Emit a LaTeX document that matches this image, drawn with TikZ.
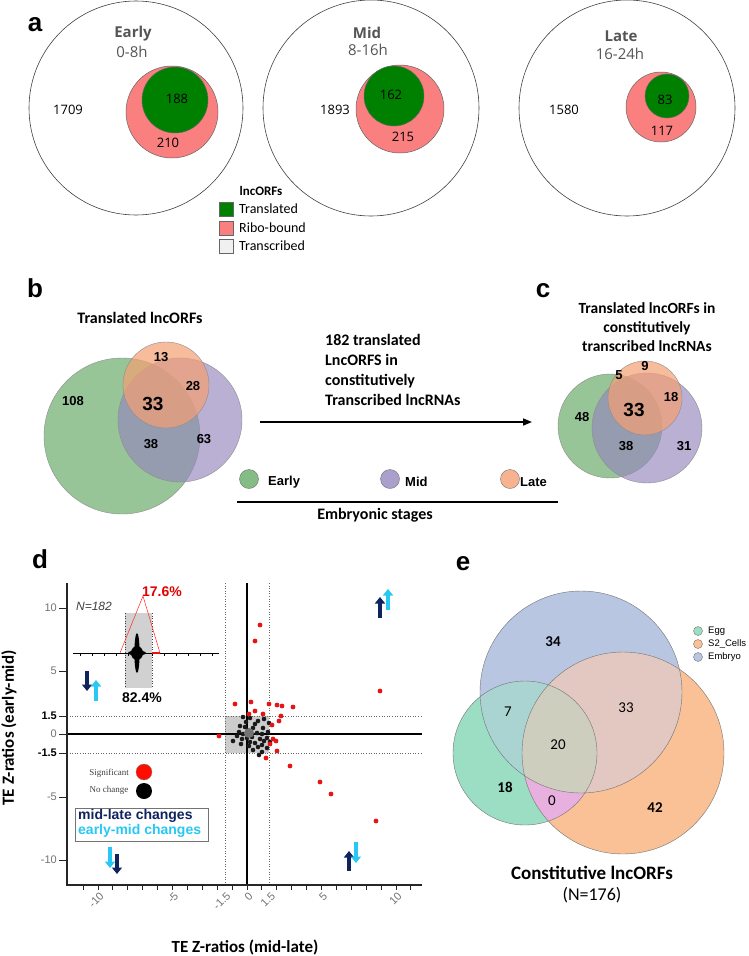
\documentclass[tikz,border=0pt]{standalone}
\usepackage{fontspec}
\setmainfont{Carlito}
\newfontfamily\arialf{Liberation Sans}
\newfontfamily\ossf{Open Sans}
\newfontfamily\serf{Liberation Serif}
\usetikzlibrary{arrows.meta}
\definecolor{tgreen}{RGB}{0,128,0}
\definecolor{tred}{RGB}{250,128,128}
\definecolor{tgray}{RGB}{240,240,240}
\definecolor{labgray}{RGB}{85,85,85}
\definecolor{vgreen}{RGB}{112,176,112}
\definecolor{vpurple}{RGB}{150,135,190}
\definecolor{vorange}{RGB}{245,160,115}
\definecolor{navy}{RGB}{15,35,95}
\definecolor{cyanl}{RGB}{40,200,245}
\definecolor{sigred}{RGB}{230,20,20}
\definecolor{eggc}{RGB}{155,222,195}
\definecolor{s2c}{RGB}{250,192,150}
\definecolor{embc}{RGB}{185,198,226}
\definecolor{eggemb}{RGB}{170,212,210}
\definecolor{s2emb}{RGB}{226,200,192}
\definecolor{allc}{RGB}{206,206,190}
\definecolor{eggsii}{RGB}{232,176,222}
\tikzset{
  plabel/.style={font=\arialf\bfseries\fontsize{26}{26}\selectfont, anchor=base},
  outerc/.style={draw=black!75, line width=0.6pt},
  redc/.style={fill=tred, draw=black!60, line width=0.5pt},
  greenc/.style={fill=tgreen, draw=black!60, line width=0.5pt},
  stage/.style={font=\ossf\bfseries\fontsize{15}{15}\selectfont, text=labgray},
  hours/.style={font=\ossf\fontsize{15}{15}\selectfont, text=labgray},
  anum/.style={font=\ossf\fontsize{13}{13}\selectfont},
  lgtitle/.style={font=\bfseries\fontsize{13}{13}\selectfont},
  lgtxt/.style={font=\fontsize{14}{14}\selectfont, anchor=west},
  lgbox/.style={draw=black!60, line width=0.5pt, minimum size=14pt},
  vtitle/.style={font=\bfseries\fontsize{16}{16}\selectfont},
  vnum/.style={font=\arialf\bfseries\fontsize{13}{13}\selectfont},
  vbig/.style={font=\arialf\bfseries\fontsize{19}{19}\selectfont},
  vg/.style={fill=vgreen, fill opacity=0.72, draw=black!45, line width=0.4pt},
  vp/.style={fill=vpurple, fill opacity=0.65, draw=black!45, line width=0.4pt},
  vo/.style={fill=vorange, fill opacity=0.7, draw=black!45, line width=0.4pt},
  stxt/.style={font=\arialf\bfseries\fontsize{13}{13}\selectfont, anchor=west},
  ticklab/.style={font=\arialf\fontsize{11}{11}\selectfont, text=black!55},
  tickbold/.style={font=\arialf\bfseries\fontsize{11}{11}\selectfont},
  axtitle/.style={font=\bfseries\fontsize{17}{17}\selectfont},
  dotl/.style={dotted, draw=black!60, line width=0.6pt},
  axl/.style={draw=black!85, line width=1.1pt},
  fatarrow/.style={line width=3.3pt, -{Triangle[length=6.5pt,width=10pt]}},
  reddot/.style={fill=sigred},
  blkdot/.style={fill=black!90},
  enumb/.style={font=\bfseries\fontsize{15}{15}\selectfont},
  enum/.style={font=\fontsize{15}{15}\selectfont},
  elg/.style={font=\arialf\fontsize{9.5}{9.5}\selectfont, anchor=west},
  ecirc/.style={draw=black!55, line width=0.4pt},
}
\begin{document}
\begin{tikzpicture}[x=1pt,y=-1pt, every node/.style={inner sep=0pt}]
\useasboundingbox (0,0) rectangle (748,956);
\fill[white] (0,0) rectangle (748,956);

% ---------------- panel a ----------------
\node[plabel] (la) at (35,31) {a};
\draw[outerc] (136,108) circle (107pt);
\draw[outerc] (371,108) circle (108pt);
\draw[outerc] (627,108) circle (108pt);
\draw[redc] (172,112) circle (46pt);
\draw[greenc] (175,100) circle (33pt);
\draw[redc] (400,109) circle (44pt);
\draw[greenc] (394,96) circle (30pt);
\draw[redc] (661,107) circle (35pt);
\draw[greenc] (667,96) circle (22pt);
\node[stage] (se) at (133,34) {Early};
\node[hours] (he) at (132,52) {0-8h};
\node[stage] (sm) at (367,33) {Mid};
\node[hours] (hm) at (368,50) {8-16h};
\node[stage] (sl) at (621,36) {Late};
\node[hours] (hl) at (620,54) {16-24h};
\node[anum] (n1709) at (68,110) {1709};
\node[anum] (n188) at (177,99) {188};
\node[anum] (n210) at (168,143) {210};
\node[anum] (n1893) at (335,110) {1893};
\node[anum] (n162) at (391,95) {162};
\node[anum] (n215) at (403,137) {215};
\node[anum] (n1580) at (564,110) {1580};
\node[anum] (n83) at (665,100) {83};
\node[anum] (n117) at (662,131) {117};
% legend a
\node[lgtitle] (lgt) at (261,191) {lncORFs};
\node[lgbox, fill=tgreen] (lgb1) at (226,209) {};
\node[lgbox, fill=tred] (lgb2) at (226,228) {};
\node[lgbox, fill=tgray] (lgb3) at (226,246) {};
\node[lgtxt] (lg1) at (239,209) {Translated};
\node[lgtxt] (lg2) at (239,228) {Ribo-bound};
\node[lgtxt] (lg3) at (239,246) {Transcribed};

% ---------------- panel b ----------------
\node[plabel] (lb) at (35,297) {b};
\node[vtitle] (tb) at (140,318) {Translated lncORFs};
\draw[vg] (122,436) circle (78pt);
\draw[vp] (180,420) circle (62pt);
\draw[vo] (166,385) circle (43pt);
\node[vnum] (b13) at (161,357) {13};
\node[vnum] (b28) at (193,386) {28};
\node[vnum] (b108) at (73,401) {108};
\node[vbig] (b33) at (153,404) {33};
\node[vnum] (b38) at (151,444) {38};
\node[vnum] (b63) at (204,439) {63};

% arrow b -> c
\coordinate (arrS) at (260,422);
\coordinate (arrE) at (532,422);
\draw[line width=1.6pt, -{Triangle[length=9pt,width=7pt]}] (arrS) -- (arrE);
\node[font=\bfseries\fontsize{16}{20}\selectfont, anchor=north west, align=left] (arrtxt) at (325,334)
  {182 translated\\LncORFS in\\constitutively\\Transcribed lncRNAs};

% stage legend
\draw[ecirc, fill=vgreen!85] (249,479) circle (9.5pt);
\draw[ecirc, fill=vpurple!80] (390,479) circle (9.5pt);
\draw[ecirc, fill=vorange!80] (510,479) circle (9.5pt);
\node[stxt] (le) at (268,482) {Early};
\node[stxt] (lm) at (405,482) {Mid};
\node[stxt] (ll) at (520,482) {Late};
\coordinate (stL) at (237,502);
\coordinate (stR) at (558,502);
\draw[line width=1.2pt] (stL) -- (stR);
\node[vtitle] (embst) at (375,515) {Embryonic stages};

% ---------------- panel c ----------------
\node[plabel] (lc) at (543,297) {c};
\node[font=\bfseries\fontsize{15.5}{19}\selectfont, align=center] (tc) at (647,327)
  {Translated lncORFs in\\constitutively\\transcribed lncRNAs};
\draw[vg] (610,426) circle (52pt);
\draw[vp] (647,428) circle (55pt);
\draw[vo] (645,398) circle (37pt);
\node[vnum] (c5) at (619,375) {5};
\node[vnum] (c9) at (645,366) {9};
\node[vnum] (c18) at (671,397) {18};
\node[vbig] (c33) at (634,410) {33};
\node[vnum] (c48) at (582,417) {48};
\node[vnum] (c38) at (626,446) {38};
\node[vnum] (c31) at (684,446) {31};

% ---------------- panel d ----------------
\node[plabel] (ld) at (40,568) {d};
% grey centre square and dotted lines
\fill[black!20] (225,716) rectangle (269,753);
\draw[dotl] (67,716) -- (422,716);
\draw[dotl] (67,753) -- (422,753);
\draw[dotl] (225,583) -- (225,885);
\draw[dotl] (269,583) -- (269,885);
% zero lines
\draw[line width=1.1pt] (67,734) -- (422,734);
\draw[line width=1.1pt] (247,583) -- (247,885);
% axes
\draw[axl] (67,583) -- (67,885) -- (422,885);
\foreach \u in {-11,...,11} \draw[axl, line width=0.9pt] ({247+14.9*\u},885) -- ({247+14.9*\u},890);
\foreach \yy/\lab/\sty [count=\i] in {608/10/ticklab,671/5/ticklab,716/1.5/tickbold,734/0/ticklab,753/-1.5/tickbold,797/-5/ticklab,860/-10/ticklab}{
  \draw[axl, line width=0.9pt] (59,\yy) -- (67,\yy);
  \node[\sty, anchor=east] (ytl\i) at (57,\yy) {\lab};
}
\foreach \u/\lab [count=\i] in {-10/-10,-5/-5,-1.5/-1.5,0/0,1.5/1.5,5/5,10/10}
  \node[ticklab, rotate=45, anchor=east] (xtl\i) at ({247+14.9*\u+4},894) {\lab};
\node[axtitle] (xtit) at (245,947) {TE Z-ratios (mid-late)};
\node[axtitle, rotate=90] (ytit) at (9,728) {TE Z-ratios (early-mid)};

% inset
\fill[black!18] (125,613) rectangle (152,688);
\draw[dotl, draw=black!75] (125,613) -- (125,688);
\draw[dotl, draw=black!75] (152,613) -- (152,688);
\draw[line width=0.9pt] (73,653) -- (219,653);
\foreach \t in {80,92,...,212} \draw[line width=0.4pt] (\t,653) -- (\t,655.5);
\fill[black] (137,653) ellipse [x radius=2.6pt, y radius=20pt];
\fill[black] (137,653) ellipse [x radius=6pt, y radius=7pt];
\fill[black] (137,653) ellipse [x radius=9pt, y radius=2.5pt];
\draw[sigred, line width=1.6pt] (152,653) -- (160,653);
\coordinate (triL) at (120,653);
\coordinate (triT) at (143,596);
\coordinate (triR) at (160,653);
\draw[red!85, line width=0.5pt] (triL) -- (triT) -- (triR);
\node[font=\arialf\bfseries\fontsize{14}{14}\selectfont, text=red!90!black] (p176) at (162,592) {17.6\%};
\node[font=\arialf\bfseries\fontsize{14}{14}\selectfont] (p824) at (142,698) {82.4\%};
\node[font=\arialf\itshape\fontsize{12}{12}\selectfont, text=black!75] (nn) at (94,606) {N=182};

% change arrows
\coordinate (a1s) at (87,671);  \coordinate (a1e) at (87,691);
\coordinate (a2s) at (96,701);  \coordinate (a2e) at (96,680);
\draw[fatarrow, navy] (a1s) -- (a1e);
\draw[fatarrow, cyanl] (a2s) -- (a2e);
\coordinate (a3s) at (380,618); \coordinate (a3e) at (380,597);
\coordinate (a4s) at (388,610); \coordinate (a4e) at (388,589);
\draw[fatarrow, navy] (a3s) -- (a3e);
\draw[fatarrow, cyanl] (a4s) -- (a4e);
\coordinate (a5s) at (110,847); \coordinate (a5e) at (110,868);
\coordinate (a6s) at (117,854); \coordinate (a6e) at (117,874);
\draw[fatarrow, cyanl] (a5s) -- (a5e);
\draw[fatarrow, navy] (a6s) -- (a6e);
\coordinate (a7s) at (349,871); \coordinate (a7e) at (349,851);
\coordinate (a8s) at (356,842); \coordinate (a8e) at (356,863);
\draw[fatarrow, navy] (a7s) -- (a7e);
\draw[fatarrow, cyanl] (a8s) -- (a8e);

% legend d
\node[font=\serf\fontsize{9}{9}\selectfont, text=black!75] (lsig) at (109,773) {Significant};
\node[font=\serf\fontsize{9}{9}\selectfont, text=black!75] (lno) at (109,790) {No change};
\fill[red!90!orange] (144,772) circle (8pt);
\draw[black!50, line width=0.3pt] (144,772) circle (8pt);
\fill[black] (144,791) circle (8pt);
\node[draw=black!55, line width=0.7pt, minimum width=133pt, minimum height=33pt] (chbox) at (141.5,824.5) {};
\node[font=\arialf\bfseries\fontsize{14}{14}\selectfont, text=navy, anchor=west] (ml) at (78,816) {mid-late changes};
\node[font=\arialf\bfseries\fontsize{14}{14}\selectfont, text=cyanl, anchor=west] (em) at (78,831) {early-mid changes};

% scatter
\foreach \x/\y in {243/717,250/718,258/721,264/719,269/723,240/726,245/727,253/728,263/728,268/732,239/732,243/734,248/733,257/733,262/734,267/738,233/741,242/739,252/737,260/739,255/743,262/745,267/748,262/752,258/747,250/742,247/738,270/742,246/722,255/724,237/736,264/741,249/746,241/744,253/750,259/755}
  \fill[blkdot] (\x,\y) circle (2.3pt);
\fill[black!55] (249,733) circle (5pt);
\foreach \x/\y in {380/691,235/704,251/702,269/704,277/705,282/706,293/707,255/711,263/714,249/714,281/716,279/721,272/725,219/736,273/739,276/741,270/744,277/751,266/758,290/766,320/782,331/794,376/821,260/625,255/641}
  \fill[reddot] (\x,\y) circle (2.4pt);

% ---------------- panel e ----------------
\node[plabel] (le2) at (463,570) {e};
\fill[eggc] (525,753) circle (72pt);
\fill[s2c] (623,753) circle (101pt);
\fill[embc] (581,692) circle (101pt);
\begin{scope}
  \clip (525,753) circle (72pt);
  \fill[eggsii] (623,753) circle (101pt);
  \fill[eggemb] (581,692) circle (101pt);
\end{scope}
\begin{scope}
  \clip (623,753) circle (101pt);
  \fill[s2emb] (581,692) circle (101pt);
\end{scope}
\begin{scope}
  \clip (525,753) circle (72pt);
  \clip (623,753) circle (101pt);
  \fill[allc] (581,692) circle (101pt);
\end{scope}
\draw[ecirc] (525,753) circle (72pt);
\draw[ecirc] (623,753) circle (101pt);
\draw[ecirc] (581,692) circle (101pt);
\node[enumb] (e34) at (553,642) {34};
\node[enum] (e7) at (508,712) {7};
\node[enum] (e33) at (626,708) {33};
\node[enum] (e20) at (558,745) {20};
\node[enumb] (e18) at (505,787) {18};
\node[enum] (e0) at (552,801) {0};
\node[enumb] (e42) at (655,808) {42};
\draw[ecirc, fill=eggc] (698,631) circle (4.5pt);
\draw[ecirc, fill=s2c] (698,644) circle (4.5pt);
\draw[ecirc, fill=embc] (698,657) circle (4.5pt);
\node[elg] (eg1) at (708,631) {Egg};
\node[elg] (eg2) at (708,644) {S2\_Cells};
\node[elg] (eg3) at (708,657) {Embryo};
\node[font=\bfseries\fontsize{19}{19}\selectfont] (ct) at (592,873) {Constitutive lncORFs};
\node[font=\fontsize{18}{18}\selectfont] (cn) at (592,895) {(N=176)};
\end{tikzpicture}
\end{document}
